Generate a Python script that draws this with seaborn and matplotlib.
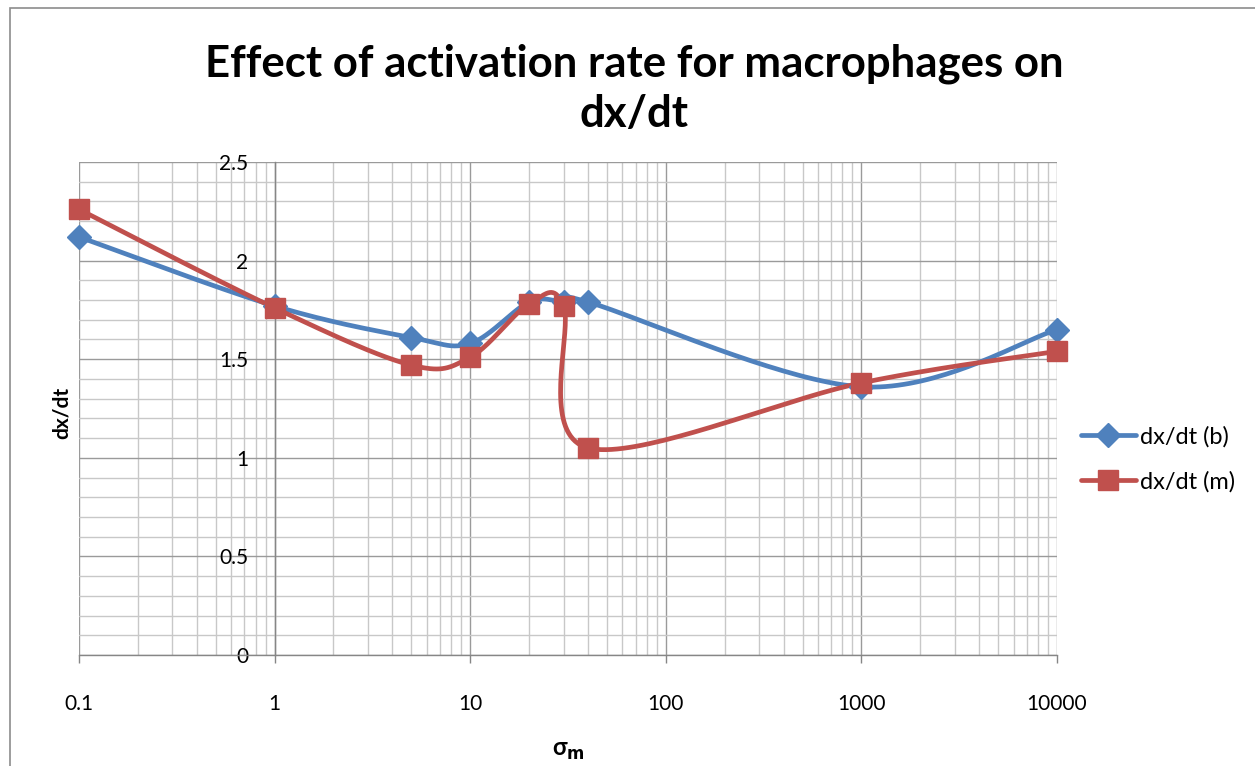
import numpy as np
import pandas as pd
import seaborn as sns
import matplotlib.pyplot as plt
from matplotlib.lines import Line2D
from matplotlib.patches import Rectangle
from matplotlib.ticker import LogLocator, MultipleLocator, FixedLocator, FixedFormatter


# values
sigma_m = [0.1, 1, 5, 10, 20, 30, 40, 1000, 10000]
dxdt_b = [2.12, 1.77, 1.61, 1.58, 1.79, 1.79, 1.79, 1.36, 1.65]
dxdt_m = [2.26, 1.76, 1.47, 1.51, 1.78, 1.77, 1.05, 1.38, 1.54]
series_names = ['dx/dt (b)', 'dx/dt (m)']
x_ticks = [0.1, 1, 10, 100, 1000, 10000]
x_tick_labels = ['0.1', '1', '10', '100', '1000', '10000']
y_ticks = [0, 0.5, 1, 1.5, 2, 2.5]
y_tick_labels = ['0', '0.5', '1', '1.5', '2', '2.5']

BLUE = '#4F81BD'
RED = '#C0504D'


def smooth(ax, xs, ys, n=40):
    # excel-like smoothing: bezier segments built in screen space
    pts = ax.transData.transform(np.column_stack([xs, ys]))
    P = np.vstack([pts[0], pts, pts[-1]])
    t = np.linspace(0, 1, n)[1:, None]
    out = [pts[0]]
    for i in range(1, len(P) - 2):
        p0, p1, p2, p3 = P[i - 1], P[i], P[i + 1], P[i + 2]
        c1 = p1 + (p2 - p0) / 6
        c2 = p2 - (p3 - p1) / 6
        seg = (1 - t) ** 3 * p1 + 3 * (1 - t) ** 2 * t * c1 + 3 * (1 - t) * t ** 2 * c2 + t ** 3 * p2
        out.extend(seg)
    out = ax.transData.inverted().transform(np.array(out))
    return out[:, 0], out[:, 1]


sns.set_style('white')
plt.rcParams['font.family'] = ['Lato', 'DejaVu Sans']
plt.rcParams['text.color'] = 'black'
plt.rcParams['xtick.labelcolor'] = 'black'
plt.rcParams['ytick.labelcolor'] = 'black'

fig = plt.figure(figsize=(12.55, 7.66), dpi=100)
ax = fig.add_axes([79 / 1255, 111 / 766, (1057 - 79) / 1255, (655 - 162) / 766])
ax.set_xscale('log')
ax.set_xlim(0.1, 10000)
ax.set_ylim(0, 2.5)

# grid
ax.xaxis.set_major_locator(FixedLocator(x_ticks))
ax.xaxis.set_major_formatter(FixedFormatter(x_tick_labels))
ax.xaxis.set_minor_locator(LogLocator(base=10, subs=np.arange(2, 10)))
ax.yaxis.set_major_locator(FixedLocator(y_ticks))
ax.yaxis.set_major_formatter(FixedFormatter(y_tick_labels))
ax.yaxis.set_minor_locator(MultipleLocator(0.1))
ax.grid(which='major', color='#9a9a9a', lw=1.0)
ax.grid(which='minor', color='#c8c8c8', lw=1.0)
ax.set_axisbelow(True)

for s in ['top', 'right']:
    ax.spines[s].set_visible(False)
ax.spines['left'].set_position(('data', 1))
ax.spines['left'].set_color('#868686')
ax.spines['bottom'].set_color('#868686')
ax.spines['left'].set_linewidth(1.0)
ax.spines['bottom'].set_linewidth(1.0)

ax.tick_params(axis='x', which='major', length=6, width=1, color='#868686', direction='out',
               pad=22, labelsize=15)
ax.tick_params(axis='x', which='minor', length=0)
ax.tick_params(axis='y', which='both', length=0, pad=19, labelsize=15)
ax.xaxis.set_ticks_position('bottom')

fig.canvas.draw()

for vals, col, mk, ms in [(dxdt_b, BLUE, 'D', 12), (dxdt_m, RED, 's', 14)]:
    sx, sy = smooth(ax, sigma_m, vals)
    df = pd.DataFrame({'x': sx, 'y': sy})
    sns.lineplot(data=df, x='x', y='y', sort=False, estimator=None, color=col, lw=3.4, ax=ax,
                 zorder=3)
    ax.plot(sigma_m, vals, linestyle='none', marker=mk, ms=ms, color=col, mec=col, zorder=4,
            clip_on=False)

ax.set_xlim(0.1, 10000)
ax.set_ylim(0, 2.5)
ax.set_xlabel('')
ax.set_ylabel('')

handles = [Line2D([], [], color=BLUE, lw=3.4, marker='D', ms=12),
           Line2D([], [], color=RED, lw=3.4, marker='s', ms=14)]
fig.legend(handles, series_names, loc='center left', bbox_to_anchor=(1060 / 1255, 1 - 459 / 766),
           frameon=False, fontsize=17, handlelength=2.3, labelspacing=1.0, handletextpad=0.2)

fig.text(634 / 1255, 1 - 89 / 766, 'Effect of activation rate for macrophages on\ndx/dt',
         ha='center', va='center', fontsize=31.5, fontweight='bold', linespacing=1.3)
fig.text(62 / 1255, 1 - 413 / 766, 'dx/dt', rotation=90, ha='center', va='center',
         fontsize=15, fontweight='bold')
fig.text(568 / 1255, 1 - 750 / 766, r'σ$_\mathbf{m}$', ha='center', va='center',
         fontsize=17, fontweight='bold')

fig.patches.append(Rectangle((10 / 1255, -0.1), 1.2, 1 - 8 / 766 + 0.1, transform=fig.transFigure,
                             fill=False, edgecolor='#8c8c8c', lw=1.2))

fig.savefig('out.png', dpi=100)
